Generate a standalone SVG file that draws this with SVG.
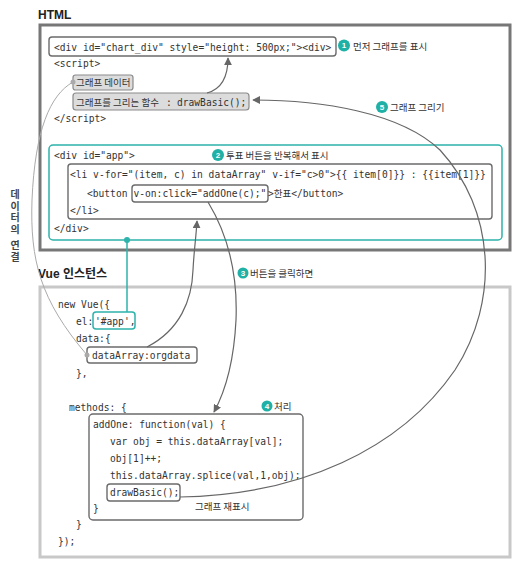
<svg xmlns="http://www.w3.org/2000/svg" width="529" height="565" viewBox="0 0 529 565">
<style>
.code{font-family:"DejaVu Sans Mono","Liberation Mono",monospace;font-size:9.6px;fill:#333}
.ko{font-family:"Noto Sans CJK KR","Noto Sans",sans-serif;font-size:9.5px;fill:#333}
.vt{font-family:"Noto Sans CJK KR","Noto Sans",sans-serif;font-size:10px;font-weight:bold;fill:#444;writing-mode:vertical-rl;letter-spacing:1.8px}
.title{font-family:"Liberation Sans","Noto Sans CJK KR",sans-serif;font-size:12px;font-weight:bold;fill:#222}
.box{fill:#fff;stroke:#6b6b6b;stroke-width:1.4}
.gbox{fill:#dcdcdc;stroke:#8a8a8a;stroke-width:1.2}
.tbox{fill:none;stroke:#2db3ab;stroke-width:1.5}
.conn{fill:none;stroke:#666;stroke-width:1.2}
.lconn{fill:none;stroke:#aaa;stroke-width:1}
.badge{fill:#1fb0a6}
.bnum{font-family:"Liberation Sans",sans-serif;font-size:8px;font-weight:bold;fill:#fff;text-anchor:middle}
</style>
<defs>
<marker id="ah" viewBox="0 0 10 10" refX="9" refY="5" markerWidth="8" markerHeight="8" markerUnits="userSpaceOnUse" orient="auto">
<path d="M0,0 L10,5 L0,10 z" fill="#666"/>
</marker>
</defs>
<rect width="529" height="565" fill="#fff"/>

<g id="html-section">
<text class="title" x="38" y="19">HTML</text>
<rect x="40" y="25" width="470" height="225" fill="#fff" stroke="#777" stroke-width="3"/>
</g>

<g id="vue-section">
<text class="title" x="38" y="278">Vue 인스턴스</text>
<rect x="40" y="287" width="470" height="270" fill="#fff" stroke="#c8c8c8" stroke-width="3"/>
</g>

<g id="chart-div">
<rect class="box" x="49" y="37" width="287" height="19" rx="3"/>
<text class="code" x="54" y="50.5">&lt;div id="chart_div" style="height: 500px;"&gt;&lt;div&gt;</text>
<circle class="badge" cx="344" cy="45.5" r="6"/><text class="bnum" x="344" y="48.4">1</text>
<text class="ko" x="353" y="49.5">먼저 그래프를 표시</text>
</g>

<g id="script">
<text class="code" x="54" y="67">&lt;script&gt;</text>
<text class="code" x="54" y="122">&lt;/script&gt;</text>
</g>

<g id="graph-data">
<rect class="gbox" x="73" y="75" width="60" height="15" rx="2.5"/>
<text class="ko" x="76" y="86">그래프 데이터</text>
</g>

<g id="draw-func">
<rect class="gbox" x="73" y="93" width="176" height="17" rx="3" stroke="#666" stroke-width="1.4"/>
<text class="ko" x="76" y="105.5">그래프를 그리는 함수</text>
<text class="code" x="166" y="105.5">:</text>
<text class="code" x="177" y="105.5">drawBasic();</text>
</g>

<g id="app-div">
<rect class="tbox" x="49" y="145" width="453" height="95" rx="4"/>
<text class="code" x="54" y="158.5">&lt;div id="app"&gt;</text>
<text class="code" x="54" y="232">&lt;/div&gt;</text>
<circle class="badge" cx="218" cy="155" r="6"/><text class="bnum" x="218" y="157.9">2</text>
<text class="ko" x="226" y="159">투표 버튼을 반복해서 표시</text>
</g>

<g id="li">
<rect class="box" x="68" y="164" width="424" height="55" rx="3"/>
<text class="code" x="70" y="177.5">&lt;li v-for="(item, c) in dataArray" v-if="c&gt;0"&gt;{{ item[0]}} : {{item[1]}}</text>
<text class="code" x="87" y="196.5">&lt;button </text>
<rect class="box" x="132" y="185" width="136" height="17" rx="3"/>
<text class="code" x="133.5" y="196.5">v-on:click="addOne(c);"</text>
<text class="code" x="268" y="196.5">&gt;<tspan class="ko">한표</tspan>&lt;/button&gt;</text>
<text class="code" x="70" y="213.5">&lt;/li&gt;</text>
</g>

<g id="vue-code">
<text class="code" x="58" y="307.5">new Vue({</text>
<text class="code" x="76" y="325">el:</text>
<text class="code" x="76" y="342">data:{</text>
<text class="code" x="76" y="377">},</text>
<text class="code" x="69" y="411">methods: {</text>
<text class="code" x="76" y="528">}</text>
<text class="code" x="58" y="545">});</text>
</g>

<g id="el-app">
<rect class="tbox" x="93" y="312" width="42" height="17" rx="3"/>
<text class="code" x="95" y="324.5">'#app',</text>
</g>

<g id="data-array">
<rect class="box" x="87" y="347" width="110" height="16" rx="3" stroke="#999"/>
<text class="code" x="92" y="358.5">dataArray:orgdata</text>
</g>

<g id="methods">
<circle class="badge" cx="267" cy="406" r="5.5"/><text class="bnum" x="267" y="408.9">4</text>
<text class="ko" x="274" y="410">처리</text>
<rect class="box" x="89" y="414" width="214" height="106" rx="4"/>
<text class="code" x="93" y="427.5">addOne: function(val) {</text>
<text class="code" x="110" y="445">var obj = this.dataArray[val];</text>
<text class="code" x="110" y="462">obj[1]++;</text>
<text class="code" x="110" y="479">this.dataArray.splice(val,1,obj);</text>
<text class="code" x="93" y="512">}</text>
<text class="ko" x="195" y="510">그래프 재표시</text>
</g>

<g id="draw-call">
<rect class="box" x="107" y="484" width="73" height="17" rx="3"/>
<text class="code" x="110" y="496">drawBasic();</text>
</g>

<g id="connectors">
<path class="conn" d="M207,93 C222,89 228,76 228,58" marker-end="url(#ah)"/>
<path class="conn" d="M180,497 C300,495 400,450 455,370 C500,300 495,210 440,150 C400,112 320,100 253,100" marker-end="url(#ah)"/>
<path class="conn" d="M147,347 C180,330 192,300 193,270 C194,250 196,238 197,221" marker-end="url(#ah)"/>
<path class="conn" d="M208,202 C225,230 238,270 236,320 C234,360 226,390 214,412" marker-end="url(#ah)"/>
<path d="M127,240 L127,312" fill="none" stroke="#2db3ab" stroke-width="1.5"/>
<circle cx="127" cy="240" r="3" fill="#2db3ab"/>
<path class="lconn" d="M73,82 C50,95 35,130 32,200 C30,260 40,300 87,355"/>
<circle cx="73" cy="82" r="2.5" fill="#aaa"/>
<circle cx="87" cy="355" r="2.5" fill="#aaa"/>
</g>

<g id="labels">
<circle class="badge" cx="382" cy="107" r="6"/><text class="bnum" x="382" y="109.9">5</text>
<text class="ko" x="390" y="111">그래프 그리기</text>
<circle class="badge" cx="243" cy="273" r="5.5"/><text class="bnum" x="243" y="275.9">3</text>
<text class="ko" x="250" y="277">버튼을 클릭하면</text>
<text class="vt" x="15" y="189">데이터의 연결</text>
</g>
</svg>
